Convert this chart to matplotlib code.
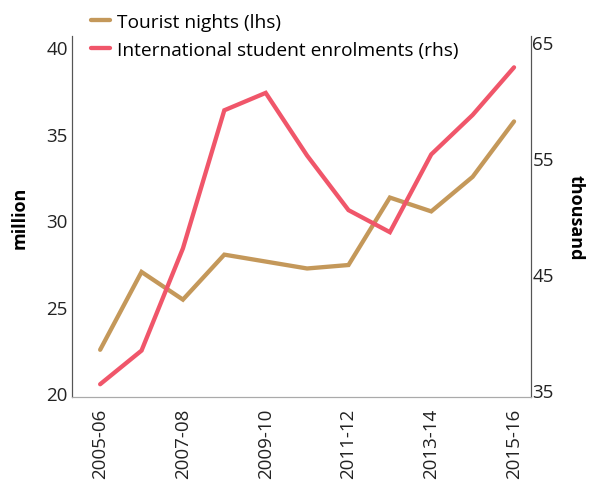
import numpy as np
import matplotlib
matplotlib.use("Agg")
import matplotlib.pyplot as plt

# ── Data ──────────────────────────────────────────────────────────────────────
years = ["2005-06", "2006-07", "2007-08", "2008-09", "2009-10", "2010-11",
         "2011-12", "2012-13", "2013-14", "2014-15", "2015-16"]
tourist_nights = [22.5, 27.0, 25.4, 28.0, 27.6, 27.2, 27.4, 31.3, 30.5, 32.5, 35.7]
student_enrol = [35.5, 38.4, 47.2, 59.1, 60.6, 55.2, 50.5, 48.6, 55.3, 58.7, 62.8]

left_ticks = [20, 25, 30, 35, 40]
right_ticks = [35, 45, 55, 65]

GOLD = "#C4985A"
RED = "#F0566A"
FS = 13.8
plt.rcParams['font.family'] = ['Open Sans', 'DejaVu Sans']

fig = plt.figure(figsize=(5.92, 4.89), dpi=100)
ax = fig.add_axes([72 / 592, 1 - 398 / 489, (531 - 72) / 592, (398 - 37) / 489])
ax2 = ax.twinx()

x = np.arange(len(years))
l1, = ax.plot(x, tourist_nights, color=GOLD, lw=3.1, solid_capstyle='round',
              solid_joinstyle='miter', label="Tourist nights (lhs)")
l2, = ax2.plot(x, student_enrol, color=RED, lw=3.1, solid_capstyle='round',
               solid_joinstyle='miter', label="International student enrolments (rhs)")

ax.set_xlim(-0.68, 10.41)
ax.set_ylim(19.77, 40.64)
ax2.set_ylim(34.4, 65.5)

ax.set_yticks(left_ticks)
ax2.set_yticks(right_ticks)
ax.set_xticks(x[::2])
ax.set_xticklabels(years[::2], rotation=90, fontsize=13.5, color="#222222")
ax.tick_params(axis='x', length=0, pad=8)
ax.tick_params(axis='y', length=0, labelsize=13.5, labelcolor="#222222", pad=3)
ax2.tick_params(axis='y', length=0, labelsize=13.5, labelcolor="#222222", pad=1)

for a in (ax, ax2):
    a.spines['top'].set_visible(False)
    a.spines['left'].set_color("#555555")
    a.spines['right'].set_color("#555555")
    a.spines['bottom'].set_color("#aaaaaa")

ax.set_ylabel("million", fontsize=13, fontweight='bold', labelpad=13)
ax2.set_ylabel("thousand", fontsize=13, fontweight='bold', rotation=-90, labelpad=22)

fig.legend(handles=[l1, l2], loc='upper left', bbox_to_anchor=(91 / 592, 1 - 14 / 489),
           frameon=False, fontsize=FS, handlelength=1.0, handletextpad=0.38,
           labelspacing=0.5, borderaxespad=0.0, borderpad=0.0)

fig.savefig("out.png", dpi=100)
